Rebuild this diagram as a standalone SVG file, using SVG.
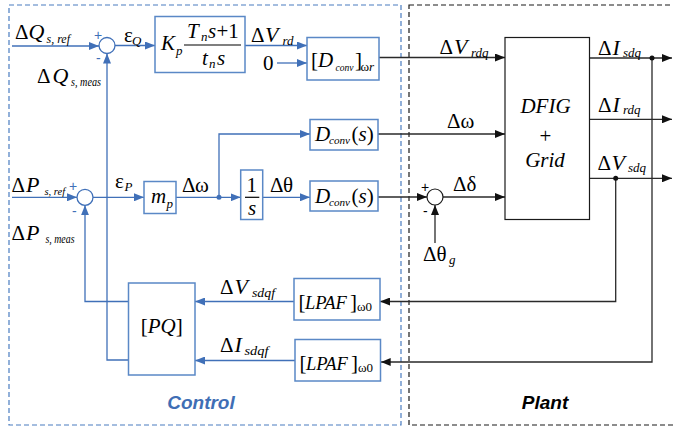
<svg xmlns="http://www.w3.org/2000/svg" width="673" height="432" viewBox="0 0 673 432">
<style>
  .bg{fill:#ffffff}
  .blk{fill:#ffffff;stroke:#5a88c6;stroke-width:1.5}
  .pblk{fill:#ffffff;stroke:#1a1a1a;stroke-width:1.2}
  .bl{fill:none;stroke:#4070b8;stroke-width:1.3}
  .dk{fill:none;stroke:#2a2a2a;stroke-width:1.3}
  .sum{fill:#ffffff;stroke:#4070b8;stroke-width:1.3}
  .psum{fill:#ffffff;stroke:#1a1a1a;stroke-width:1.2}
  text{font-family:"Liberation Serif","Times New Roman",serif;font-size:21px;fill:#000}
  .i{font-style:italic}
  .b{font-size:22px}
  .s{font-size:13px}
  .ss{font-size:11px}
  .sx{font-size:10.5px}
  .lp{font-size:18.5px}
  .sg{font-size:14px;fill:#4070b8;font-family:"Liberation Sans",Arial,sans-serif}
  .sgk{font-size:14px;fill:#000;font-family:"Liberation Sans",Arial,sans-serif}
  .title{font-family:"Liberation Sans",Arial,sans-serif;font-weight:bold;font-style:italic;font-size:19px;text-anchor:middle}
</style>
<defs>
  <marker id="ab" markerUnits="userSpaceOnUse" markerWidth="10" markerHeight="8" viewBox="0 0 10 8" refX="10" refY="4" orient="auto">
    <path d="M0,0 L10,4 L0,8 z" fill="#4070b8"/>
  </marker>
  <marker id="ak" markerUnits="userSpaceOnUse" markerWidth="10" markerHeight="8" viewBox="0 0 10 8" refX="10" refY="4" orient="auto">
    <path d="M0,0 L10,4 L0,8 z" fill="#111"/>
  </marker>
</defs>
<rect class="bg" x="0" y="0" width="673" height="432"/>

<g id="control-frame">
  <rect x="9" y="5" width="392" height="420" fill="none" stroke="#4a7cc0" stroke-width="1.2" stroke-dasharray="5 3"/>
  <text class="title" x="201" y="409" style="fill:#3f6eb5">Control</text>
</g>
<g id="plant-frame">
  <rect x="409" y="5" width="290" height="420" fill="none" stroke="#1a1a1a" stroke-width="1.2" stroke-dasharray="5 3"/>
  <text class="title" x="545" y="409">Plant</text>
</g>

<g id="connectors">
  <line class="bl" x1="12" y1="46" x2="99" y2="46" marker-end="url(#ab)"/>
  <line class="bl" x1="115" y1="45.5" x2="155" y2="45.5" marker-end="url(#ab)"/>
  <line class="bl" x1="245" y1="45.5" x2="307" y2="45.5" marker-end="url(#ab)"/>
  <line class="bl" x1="277" y1="63" x2="307" y2="63" marker-end="url(#ab)"/>
  <path class="bl" d="M128.5,360 H107 V53.5" marker-end="url(#ab)"/>
  <line class="bl" x1="12" y1="197.3" x2="77" y2="197.3" marker-end="url(#ab)"/>
  <path class="bl" d="M128.5,301.5 H85 V205.3" marker-end="url(#ab)"/>
  <line class="bl" x1="93" y1="197.3" x2="144" y2="197.3" marker-end="url(#ab)"/>
  <line class="bl" x1="176" y1="197.3" x2="240.7" y2="197.3" marker-end="url(#ab)"/>
  <path class="bl" d="M219,197.3 V134 H310" marker-end="url(#ab)"/>
  <line class="bl" x1="262.7" y1="197.3" x2="310" y2="197.3" marker-end="url(#ab)"/>
  <circle cx="219" cy="197.3" r="2.5" fill="#4070b8"/>
  <line class="bl" x1="294" y1="301.5" x2="195" y2="301.5" marker-end="url(#ab)"/>
  <line class="bl" x1="295" y1="360.5" x2="195" y2="360.5" marker-end="url(#ab)"/>
  <line class="dk" x1="379" y1="57.5" x2="505" y2="57.5" marker-end="url(#ak)"/>
  <line class="dk" x1="378" y1="134" x2="505" y2="134" marker-end="url(#ak)"/>
  <line class="dk" x1="378" y1="197" x2="427" y2="197" marker-end="url(#ak)"/>
  <line class="dk" x1="443" y1="197" x2="505" y2="197" marker-end="url(#ak)"/>
  <line class="dk" x1="435" y1="243" x2="435" y2="205" marker-end="url(#ak)"/>
  <line class="dk" x1="589.5" y1="58" x2="672" y2="58" marker-end="url(#ak)"/>
  <line class="dk" x1="589.5" y1="119.3" x2="672" y2="119.3" marker-end="url(#ak)"/>
  <line class="dk" x1="589.5" y1="178.3" x2="672" y2="178.3" marker-end="url(#ak)"/>
  <path class="dk" d="M615.7,178.3 V301.5 H380" marker-end="url(#ak)"/>
  <path class="dk" d="M652,58 V362 H380.7" marker-end="url(#ak)"/>
  <circle cx="652" cy="58" r="2.5" fill="#111"/>
  <circle cx="615.7" cy="178.3" r="2.5" fill="#111"/>
</g>

<g id="labels">
  <text x="15" y="39">Δ<tspan class="i b" x="28.5">Q</tspan><tspan class="i s" x="46.5" y="43" textLength="23.5" lengthAdjust="spacingAndGlyphs">s, ref</tspan></text>
  <text x="37" y="83">Δ<tspan class="i b" x="52.5">Q</tspan><tspan class="i s" x="71" y="86" textLength="30" lengthAdjust="spacingAndGlyphs">s, meas</tspan></text>
  <text x="124" y="41.5">ε<tspan class="i s" x="132" y="44.5">Q</tspan></text>
  <text x="251" y="42">Δ<tspan class="i b" x="265">V</tspan><tspan class="i s" x="282.5" y="45">rd</tspan></text>
  <text x="263" y="70">0</text>
  <text x="11.5" y="192">Δ<tspan class="i b" x="26">P</tspan><tspan class="i sx" x="44.5" y="194.5">s, ref</tspan></text>
  <text x="11.5" y="240">Δ<tspan class="i b" x="26">P</tspan><tspan class="i s" x="45.5" y="242.5" textLength="29" lengthAdjust="spacingAndGlyphs">s, meas</tspan></text>
  <text x="115" y="188">ε<tspan class="i s" x="124.5" y="190.5">P</tspan></text>
  <text x="182" y="192">Δ<tspan x="195">ω</tspan></text>
  <text x="270" y="192">Δ<tspan x="283">θ</tspan></text>
  <text x="220" y="294">Δ<tspan class="i b" x="234.5">V</tspan><tspan class="i s" x="252" y="297" textLength="23" lengthAdjust="spacingAndGlyphs">sdqf</tspan></text>
  <text x="220" y="352">Δ<tspan class="i b" x="234.5">I</tspan><tspan class="i s" x="244.5" y="355" textLength="24" lengthAdjust="spacingAndGlyphs">sdqf</tspan></text>
  <text x="439.5" y="54">Δ<tspan class="i b" x="454">V</tspan><tspan class="i s" x="471" y="57">rdq</tspan></text>
  <text x="447" y="128">Δ<tspan x="460.5">ω</tspan></text>
  <text x="453" y="191">Δ<tspan x="466.5">δ</tspan></text>
  <text x="423" y="261">Δ<tspan x="436.5">θ</tspan><tspan class="i s" x="449" y="264">g</tspan></text>
  <text x="598" y="55">Δ<tspan class="i b" x="612.5">I</tspan><tspan class="i s" x="623" y="57">sdq</tspan></text>
  <text x="598" y="112">Δ<tspan class="i b" x="612.5">I</tspan><tspan class="i s" x="623" y="114">rdq</tspan></text>
  <text x="597.5" y="170">Δ<tspan class="i b" x="611.5">V</tspan><tspan class="i s" x="628" y="172">sdq</tspan></text>
  <text class="sg" x="94" y="40">+</text>
  <text class="sg" x="96" y="63">-</text>
  <text class="sg" x="69" y="191">+</text>
  <text class="sg" x="72" y="216">-</text>
  <text class="sgk" x="421" y="192">+</text>
  <text class="sgk" x="423" y="216">-</text>
</g>

<g id="sumQ"><circle class="sum" cx="107" cy="45.5" r="8"/></g>
<g id="sumP"><circle class="sum" cx="85" cy="197.3" r="8"/></g>
<g id="sumDelta"><circle class="psum" cx="435" cy="197" r="8"/></g>

<g id="PI">
  <rect class="blk" x="155" y="16.5" width="90" height="56"/>
  <text class="i" x="161" y="50">K<tspan class="s" x="176" y="55">p</tspan></text>
  <text class="i" x="187" y="38">T<tspan class="s" x="201" y="41">n</tspan><tspan x="208" y="38">s</tspan><tspan font-style="normal" x="216.5">+1</tspan></text>
  <line x1="184" y1="45" x2="241" y2="45" stroke="#000" stroke-width="1.2"/>
  <text class="i" x="202" y="65">t<tspan class="s" x="209" y="68">n</tspan><tspan x="217" y="65">s</tspan></text>
</g>

<g id="Dconv-wr">
  <rect class="blk" x="307" y="37.5" width="72" height="42.5"/>
  <text x="311" y="67">[<tspan class="i" x="318">D</tspan><tspan class="i ss" x="335.5" y="71" textLength="18" lengthAdjust="spacingAndGlyphs">conv</tspan><tspan x="355" y="67">]</tspan><tspan class="s" x="360.5" y="71">ω<tspan class="i">r</tspan></tspan></text>
</g>

<g id="Dconv-omega">
  <rect class="blk" x="310" y="119.5" width="68" height="30.5"/>
  <text x="315" y="141"><tspan class="i">D</tspan><tspan class="i ss" x="329" y="144" textLength="21" lengthAdjust="spacingAndGlyphs">conv</tspan><tspan x="351.5" y="141">(<tspan class="i">s</tspan>)</tspan></text>
</g>

<g id="Dconv-theta">
  <rect class="blk" x="310" y="181" width="68" height="30"/>
  <text x="315" y="203"><tspan class="i">D</tspan><tspan class="i ss" x="329" y="206" textLength="21" lengthAdjust="spacingAndGlyphs">conv</tspan><tspan x="351.5" y="203">(<tspan class="i">s</tspan>)</tspan></text>
</g>

<g id="mp">
  <rect class="blk" x="144" y="181.5" width="32" height="32"/>
  <text class="i" x="151" y="203">m<tspan class="s" x="166.5" y="207.5">p</tspan></text>
</g>

<g id="integrator">
  <rect class="blk" x="240.7" y="170" width="22" height="49.5"/>
  <text x="251.7" y="191.5" text-anchor="middle">1</text>
  <line x1="245" y1="197.3" x2="259.3" y2="197.3" stroke="#000" stroke-width="1.2"/>
  <text class="i" x="252" y="215" text-anchor="middle">s</text>
</g>

<g id="PQ">
  <rect class="blk" x="128.5" y="283" width="66.5" height="92"/>
  <text x="161.7" y="333" text-anchor="middle">[<tspan class="i">PQ</tspan>]</text>
</g>

<g id="LPAF-V">
  <rect class="blk" x="294" y="278.5" width="86" height="41.5"/>
  <text x="298.5" y="308.5">[<tspan class="i lp" x="305">LPAF</tspan><tspan x="350">]</tspan><tspan class="s" x="357" y="311">ω0</tspan></text>
</g>

<g id="LPAF-I">
  <rect class="blk" x="295" y="339.5" width="85.5" height="41.5"/>
  <text x="299.5" y="369.5">[<tspan class="i lp" x="306">LPAF</tspan><tspan x="351">]</tspan><tspan class="s" x="358" y="372">ω0</tspan></text>
</g>

<g id="DFIG-Grid">
  <rect class="pblk" x="505" y="37.5" width="84.5" height="182"/>
  <text class="i" x="545.5" y="113" text-anchor="middle">DFIG</text>
  <text x="545.5" y="143" text-anchor="middle">+</text>
  <text class="i" x="545" y="167" text-anchor="middle">Grid</text>
</g>
</svg>
